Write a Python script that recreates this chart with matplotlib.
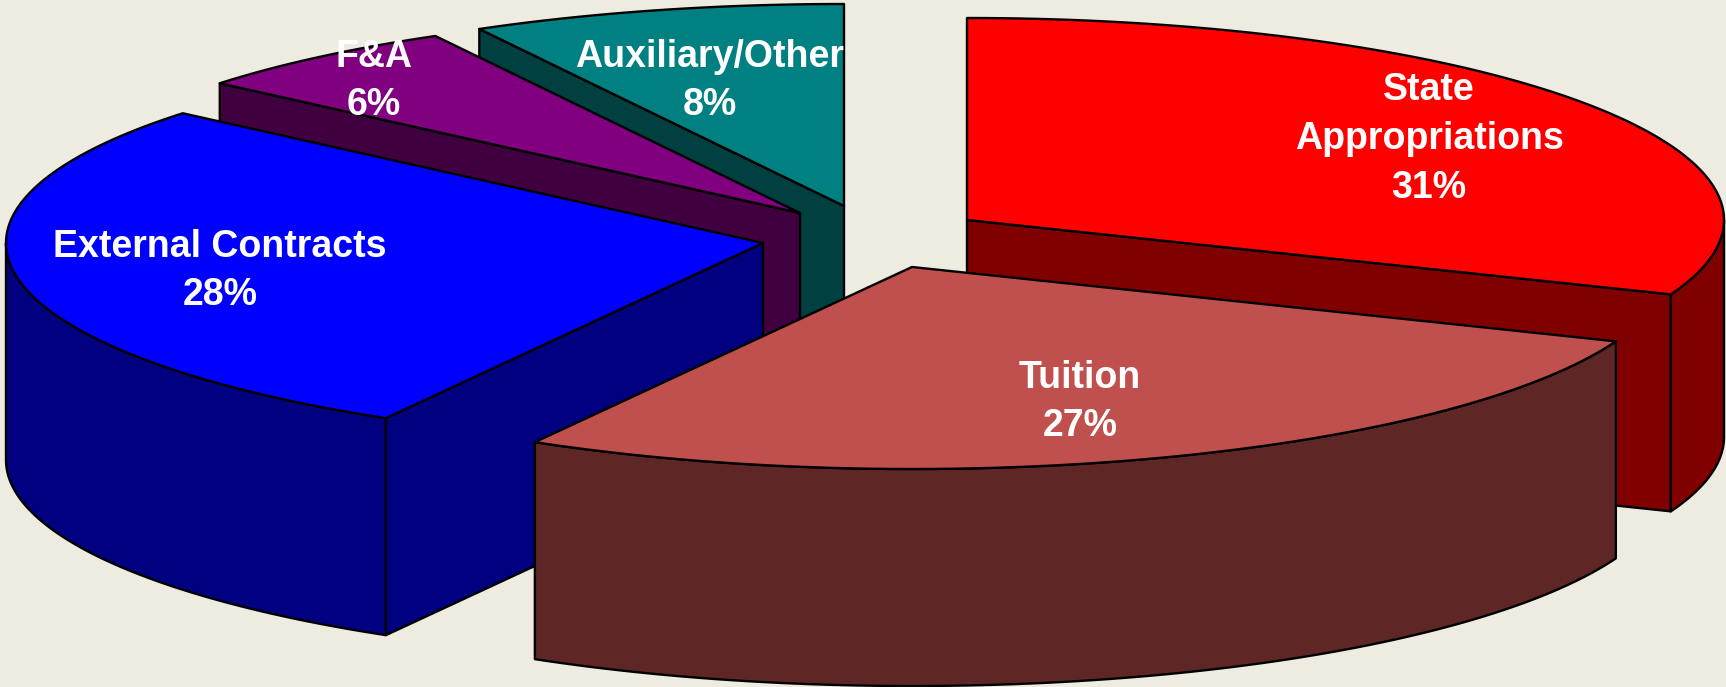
import numpy as np
import matplotlib.pyplot as plt
from matplotlib.patches import Polygon, Rectangle

# data (percent, the picture only prints the rounded numbers)
names = ["State\nAppropriations", "Tuition", "External Contracts", "F&A", "Auxiliary/Other"]
values = [31.0, 27.3, 27.8, 5.9, 8.0]

# colours of the top and the side of each slice
top_colors = ["#FF0000", "#C0504D", "#0000FF", "#800080", "#008080"]
side_colors = ["#800000", "#5E2725", "#000080", "#400040", "#004040"]

# exploded slice centres and label centres, in pixels of the picture
centers = [(967, 220), (912, 267), (763, 243), (800, 213), (844, 206)]
label_pos = [(1429, 139), (1080, 402), (220, 271), (374, 81), (710, 81)]

rx = 757
ry = 202
depth = 217
bg = "#EEECE1"

# draw from back to front
order = [4, 3, 2, 0, 1]

fig = plt.figure(figsize=(17.26, 6.87), dpi=100, facecolor=bg)
ax = fig.add_axes([0, 0, 1, 1])
ax.set_xlim(0, 1726)
ax.set_ylim(687, 0)
ax.axis("off")


def rim(c, a0, a1):
    # points on the ellipse, angle clockwise from 12 o'clock
    t = np.radians(np.linspace(a0, a1, max(int(abs(a1 - a0)) * 2, 2)))
    return np.column_stack([c[0] + rx * np.sin(t), c[1] - ry * np.cos(t)])


def face(pts, color, z):
    ax.add_patch(Polygon(pts, closed=True, facecolor=color, edgecolor="black",
                         linewidth=1.7, joinstyle="round", zorder=z))


edges = np.concatenate([[0], np.cumsum(values)]) / sum(values) * 360
down = np.array([0, depth])

z = 1
for i in order:
    c = np.array(centers[i], dtype=float)
    a0, a1 = edges[i], edges[i + 1]

    # cut faces which look towards the viewer
    if 180 < a0 < 360:
        tip = rim(c, a0, a0 + 1)[0]
        face([c, tip, tip + down, c + down], side_colors[i], z)
    if 0 < a1 < 180:
        tip = rim(c, a1 - 1, a1)[-1]
        face([c, tip, tip + down, c + down], side_colors[i], z)

    # round side, only the front half of the ellipse can be seen
    s0, s1 = max(a0, 90), min(a1, 270)
    if s0 < s1:
        arc = rim(c, s0, s1)
        face(np.vstack([arc, arc[::-1] + down]), side_colors[i], z)

    # top of the slice
    face(np.vstack([[c], rim(c, a0, a1)]), top_colors[i], z)
    z += 1

for i, name in enumerate(names):
    txt = ax.text(label_pos[i][0], label_pos[i][1], f"{name}\n{round(values[i])}%",
                  color="white", fontsize=27, fontweight="bold", family="Liberation Sans",
                  ha="center", va="center", linespacing=1.46, zorder=10)
    # the Auxiliary/Other label is cut at the edge of its slice
    if name == "Auxiliary/Other":
        txt.set_clip_path(Rectangle((0, 0), centers[i][0], 687, transform=ax.transData))
        txt.set_clip_on(True)

fig.savefig("out.png", dpi=100, facecolor=bg)
